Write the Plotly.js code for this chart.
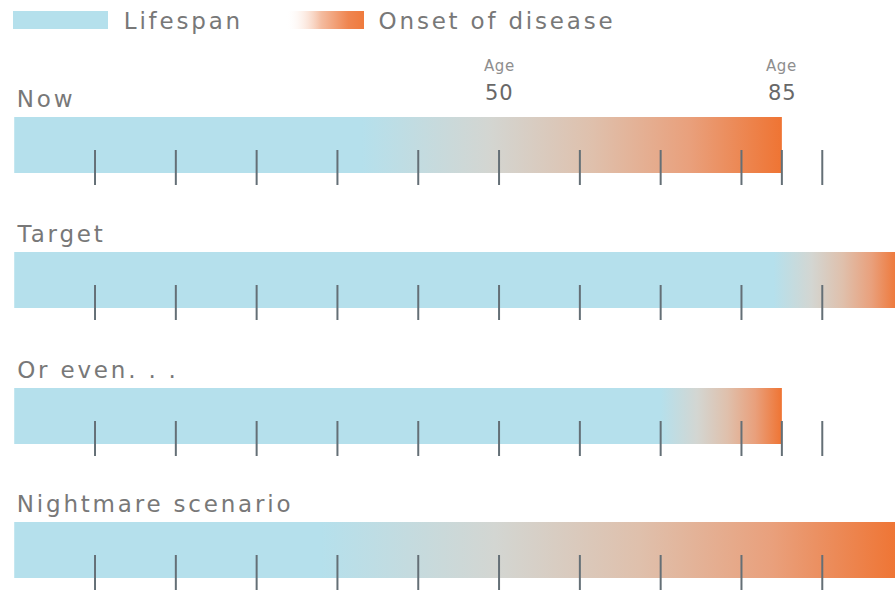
<!DOCTYPE html>
<html>
<head>
<meta charset="utf-8">
<script src="https://cdn.plot.ly/plotly-3.0.1.min.js"></script>
<style>
  html, body { margin: 0; padding: 0; background: #ffffff; }
  #chart { width: 895px; height: 590px; }
  #chart svg text { letter-spacing: 2.8px; }
</style>
</head>
<body>
<div id="chart"></div>
<script>
// ---------- data ----------
const scenarios   = ['Now', 'Target', 'Or even. . .', 'Nightmare scenario'];
const lifeStart   = -10;                 // bar start (age)
const lifespanEnd = [85, 100, 85, 100];  // where each bar ends (age)
const fadeStart   = [33, 84, 70, 28];    // age where disease onset gradient begins
const fadeEnd     = [85, 99.5, 85, 99.5];// age where gradient is fully orange
const tickAges    = [0, 10, 20, 30, 40, 50, 60, 70, 80, 90];
const markedAges  = [50, 85];
const legendLabels = ['Lifespan', 'Onset of disease'];

// ---------- style / layout constants ----------
const W = 895, H = 590;
const LS = 2.8; // letter spacing (px) used by the CSS rule above
const xRange = [-11.76, 99.0];
const px2x = px => xRange[0] + px / W * (xRange[1] - xRange[0]);
const rowTop = [117, 252, 388, 522];
const barH = 56;
const blue = '#b5e0ec';
const gradScale = [[0, '#b5e0ec'], [0.3, '#d3d6d2'], [0.55, '#dfc0ac'], [0.78, '#e9a07c'], [1, '#ef7433']];
const textColor = '#787878';
const font = 'DejaVu Sans, Verdana, sans-serif';

const traces = [];
// bars
scenarios.forEach((s, i) => {
  const t = rowTop[i], b = rowTop[i] + barH, e = lifespanEnd[i];
  traces.push({
    type: 'scatter', mode: 'none', fill: 'toself', hoverinfo: 'skip',
    x: [lifeStart, e, e, lifeStart, lifeStart],
    y: [t, t, b, b, t],
    fillcolor: blue,
    fillgradient: { type: 'horizontal', colorscale: gradScale, start: fadeStart[i], stop: fadeEnd[i] }
  });
});
// ticks
scenarios.forEach((s, i) => {
  const xs = tickAges.slice();
  if (lifespanEnd[i] < 100) xs.push(lifespanEnd[i]);
  traces.push({
    type: 'scatter', mode: 'markers', hoverinfo: 'skip',
    x: xs, y: xs.map(() => rowTop[i] + 50.5),
    marker: { symbol: 'line-ns', size: 25, line: { width: 2, color: '#646f76' }, color: '#646f76' }
  });
});
// legend gradient swatch
traces.push({
  type: 'scatter', mode: 'none', fill: 'toself', hoverinfo: 'skip',
  x: [px2x(286), px2x(364), px2x(364), px2x(286), px2x(286)],
  y: [11, 11, 29, 29, 11],
  fillcolor: '#ef7a3d',
  fillgradient: { type: 'horizontal', colorscale: [[0, 'rgba(255,255,255,0)'], [0.45, '#f4bca0'], [0.8, '#ef8550'], [1, '#ef7a3d']],
                  start: px2x(286), stop: px2x(364) }
});

// left-anchored text: compensate for CSS letter spacing (Plotly centres the unspaced width)
function leftText(txt, xpx, y, size, color) {
  return {
    text: txt, xref: 'paper', yref: 'y', x: xpx / W, y: y,
    xanchor: 'left', yanchor: 'middle', showarrow: false,
    xshift: txt.length * LS / 2,
    font: { family: font, size: size, color: color }
  };
}

const annotations = [];
scenarios.forEach((s, i) => {
  annotations.push(leftText(s, 15, rowTop[i] - 18, 23, textColor));
});
markedAges.forEach(a => {
  annotations.push({
    text: '<span style="letter-spacing:0.6px">Age</span>', xref: 'x', yref: 'y', x: a, y: 66,
    xanchor: 'center', yanchor: 'middle', showarrow: false,
    font: { family: font, size: 15, color: '#8e8e8e' }
  });
  annotations.push({
    text: '<span style="letter-spacing:0.8px">' + a + '</span>', xref: 'x', yref: 'y', x: a, y: 93,
    xanchor: 'center', yanchor: 'middle', showarrow: false,
    font: { family: font, size: 21, color: '#686868' }
  });
});
annotations.push(leftText(legendLabels[0], 122, 21, 23, textColor));
annotations.push(leftText(legendLabels[1], 377, 21, 23, textColor));

const layout = {
  width: W, height: H,
  margin: { l: 0, r: 0, t: 0, b: 0, pad: 0 },
  paper_bgcolor: '#ffffff', plot_bgcolor: '#ffffff',
  showlegend: false,
  xaxis: { range: xRange, visible: false, fixedrange: true },
  yaxis: { range: [H, 0], visible: false, fixedrange: true },
  shapes: [{
    type: 'rect', xref: 'paper', yref: 'y', x0: 13 / W, x1: 108 / W, y0: 11, y1: 29,
    fillcolor: blue, line: { width: 0 }, layer: 'below'
  }],
  annotations: annotations
};

Plotly.newPlot('chart', traces, layout, { displayModeBar: false, staticPlot: true });
</script>
</body>
</html>
